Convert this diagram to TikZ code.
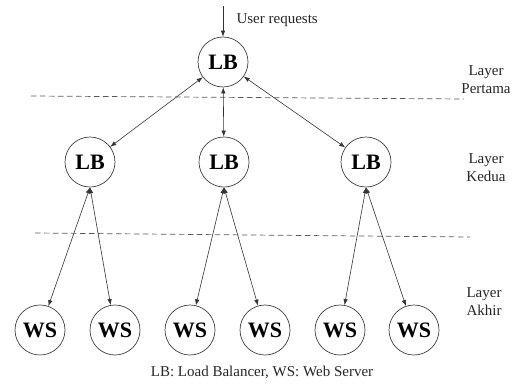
\documentclass[tikz,border=0pt]{standalone}
\usepackage{fontspec}
\setmainfont{Liberation Serif}
\usetikzlibrary{arrows.meta}
\begin{document}
\begin{tikzpicture}[x=1pt,y=-1pt,
  srv/.style={circle,draw=black!75,line width=0.7pt,minimum size=50pt,inner sep=0pt,
              font=\fontsize{22}{22}\selectfont\bfseries},
  link/.style={draw=black!80,line width=0.6pt,{Latex[length=6pt,width=4.5pt]}-{Latex[length=6pt,width=4.5pt]}},
  inlink/.style={draw=black!80,line width=0.6pt,-{Latex[length=6pt,width=4.5pt]}},
  sep/.style={draw=black!65,line width=0.7pt,dash pattern=on 5.5pt off 3.5pt},
  lbl/.style={font=\fontsize{15}{18}\selectfont,align=center,text=black!85}]
\useasboundingbox (0,0) rectangle (516,383);

% load balancers
\node[srv] (top) at (223,62) {LB};
\node[srv] (lb1) at (90,162) {LB};
\node[srv] (lb2) at (224,162) {LB};
\node[srv] (lb3) at (366,162) {LB};

% web servers
\node[srv] (ws1) at (40,330) {WS};
\node[srv] (ws2) at (115,330) {WS};
\node[srv] (ws3) at (190,330) {WS};
\node[srv] (ws4) at (265,330) {WS};
\node[srv] (ws5) at (340,330) {WS};
\node[srv] (ws6) at (414,330) {WS};

% incoming requests
\coordinate (src) at (223,6);
\draw[inlink] (src) -- (top);
\node[lbl,anchor=west] (req) at (233,20) {User requests};

% layer separators
\coordinate (s1a) at (31,96);
\coordinate (s1b) at (464,99);
\coordinate (s2a) at (35,233);
\coordinate (s2b) at (470,237);
\draw[sep] (s1a) -- (s1b);
\draw[sep] (s2a) -- (s2b);

% connections
\draw[link] (lb1) -- (top);
\draw[link] (lb2) -- (top);
\draw[link] (lb3) -- (top);
\draw[link] (lb1.south) -- (ws1);
\draw[link] (lb1.south) -- (ws2);
\draw[link] (lb2.south) -- (ws3);
\draw[link] (lb2.south) -- (ws4);
\draw[link] (lb3.south) -- (ws5);
\draw[link] (lb3.south) -- (ws6);

% layer names
\node[lbl] (l1) at (486,80) {Layer\\Pertama};
\node[lbl] (l2) at (486,168) {Layer\\Kedua};
\node[lbl] (l3) at (484,302) {Layer\\Akhir};

% legend
\node[lbl] (leg) at (262,372) {LB: Load Balancer, WS: Web Server};
\end{tikzpicture}
\end{document}
